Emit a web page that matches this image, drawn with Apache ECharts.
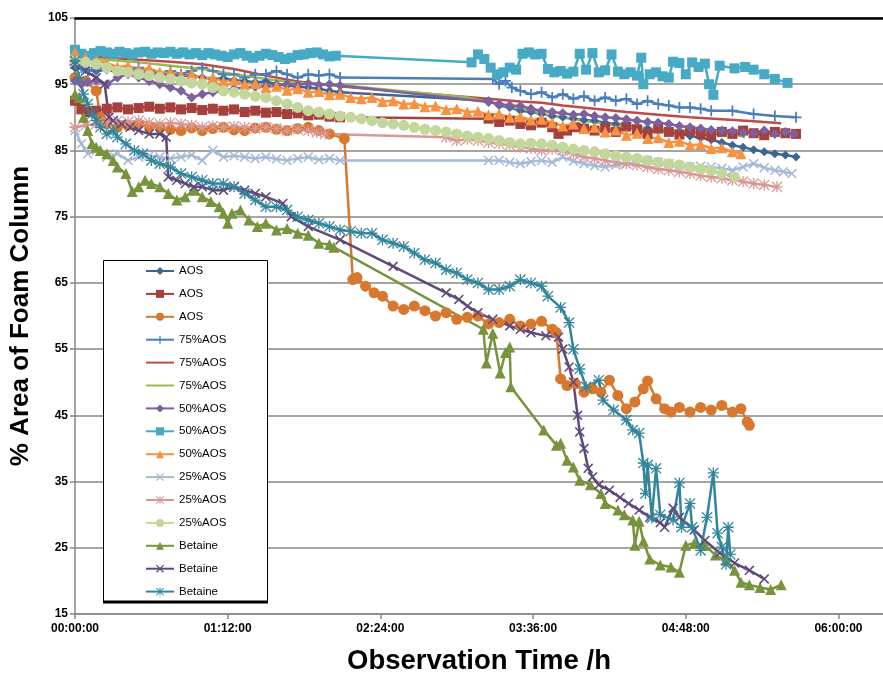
<!DOCTYPE html>
<html>
<head>
<meta charset="utf-8">
<script src="https://cdn.jsdelivr.net/npm/echarts@6/dist/echarts.min.js"></script>
<style>html,body{margin:0;padding:0;background:#fff}#c{width:883px;height:674px}</style>
</head>
<body>
<div id="c"></div>
<script>
// Time in minutes from start, value = % area of foam column
const seriesNames = ['AOS','AOS','AOS','75%AOS','75%AOS','75%AOS','50%AOS','50%AOS','50%AOS','25%AOS','25%AOS','25%AOS','Betaine','Betaine','Betaine'];

const aos1 = [[0,97.5],[5,97.2],[10,97],[15,97.2],[20,96.8],[25,96.9],[30,96.6],[35,96.8],[40,96.4],[45,96.5],[50,96.2],[55,96.3],[60,96],[65,95.8],[70,95.9],[75,95.6],[80,95.5],[85,95.3],[90,95.4],[95,95],[100,94.8],[105,94.6],[110,94.5],[115,94.3],[120,94],[125,93.8],[195,92.5],[200,91.8],[205,91.5],[210,91],[215,90.8],[220,90.5],[225,90.2],[230,90],[235,89.8],[240,89.6],[245,89.5],[250,89.2],[255,89],[260,88.8],[265,88.5],[270,88.3],[275,88],[280,87.8],[285,87.5],[290,87.2],[295,86.9],[300,86.6],[305,86.2],[310,85.8],[315,85.5],[320,85.1],[325,84.8],[330,84.5],[335,84.3],[340,84]];
const aos2 = [[0,92.5],[3,91.2],[6,90.8],[10,91],[15,91.3],[20,91.5],[25,91.2],[30,91.4],[35,91.6],[40,91.3],[45,91.5],[50,91.2],[55,91.4],[60,91.1],[65,91.3],[70,91],[75,91.2],[80,90.8],[85,91],[90,90.7],[95,90.8],[100,90.5],[105,90.6],[110,90.3],[115,90.4],[120,90.1],[125,90],[195,89.8],[200,89.3],[205,89.5],[210,89],[215,88.8],[220,89.2],[225,88.5],[228,87.5],[232,88],[236,88.5],[240,88.3],[245,88],[250,88.4],[255,87.8],[260,88.6],[265,88.2],[270,87.5],[275,88.3],[280,87.8],[285,87.4],[290,88],[295,87.5],[300,87.2],[305,87.8],[310,87.5],[315,88],[320,87.6],[325,87.3],[330,87.8],[335,87.6],[340,87.5]];
const aos3 = [[0,96],[5,95.5],[10,94],[12,90],[15,89],[20,88.5],[25,88.8],[30,89],[35,88.6],[40,88.5],[45,88.2],[50,88],[55,88.4],[60,88],[65,88.3],[70,88.5],[75,88.1],[80,88],[85,88.4],[90,88.5],[95,88.2],[100,88],[105,88.3],[110,88.5],[115,88],[120,87.5],[127,86.8],[131,65.5],[133,65.8],[137,64.5],[141,63.5],[145,63],[150,61.5],[155,61],[160,61.5],[165,60.8],[170,60],[175,60.5],[180,59.5],[185,59.8],[190,60],[195,58.8],[200,59],[205,59.5],[210,58.5],[215,58.8],[220,59.2],[225,58],[227,57.5],[229,50.5],[232,49.5],[236,49.8],[240,48.5],[244,49],[248,48.5],[252,50.3],[256,48],[260,46],[264,47],[268,49],[270,50.2],[274,47.5],[278,46],[281,45.5],[285,46.2],[290,45.5],[295,46.2],[300,45.8],[305,46.5],[310,45.5],[314,46],[317,44],[318,43.5]];
const aos75a = [[0,98],[3,97.5],[6,97],[10,97.5],[15,97.5],[20,97],[25,97],[30,97.5],[35,97],[40,96.5],[45,97],[50,96.5],[55,97],[60,97.5],[65,97],[70,96.5],[75,96.5],[80,96],[85,96.5],[90,96.5],[95,97],[100,96.5],[105,96],[110,96.5],[115,96.3],[120,96.5],[125,96],[197,95.8],[200,95],[203,95.5],[206,94.5],[210,94],[215,93.5],[220,93.8],[225,93],[230,93.5],[235,92.8],[240,93.2],[245,92.5],[250,93],[255,92.5],[260,92.8],[265,92],[270,92.5],[275,92],[280,91.8],[285,91.5],[290,91.5],[295,91.3],[300,91],[310,91],[320,90.5],[330,90.2],[340,90]];
const aos75b = [[0,99.5],[15,99],[30,98.7],[45,98.4],[60,98],[75,97.3],[90,96.3],[105,95.4],[120,94.9],[127,94.6],[195,92.8],[210,92.4],[220,92.2],[230,91.8],[245,91.3],[260,90.8],[275,90.4],[290,90],[305,89.7],[320,89.4],[333,89.1]];
const aos75c = [[0,99],[15,98.7],[30,98.3],[45,97.8],[60,97.3],[75,96.5],[90,95.8],[105,95.2],[120,95],[127,94.8],[185,93],[195,92.3],[210,91.3],[225,90.2],[240,89.5],[255,88.8],[270,88.3],[285,88],[300,87.8],[310,87.5],[316,87]];
const aos50a = [[0,95.5],[3,95],[6,95.3],[10,95.6],[15,95],[20,96],[25,96.5],[30,96],[35,95.5],[40,95],[45,94.5],[50,94],[55,93],[60,93.5],[65,93.8],[70,94],[75,94.3],[80,94.5],[85,94.6],[90,94.7],[95,94.8],[100,95],[105,94.9],[110,95.1],[115,94.9],[120,95],[125,94.8],[195,92.3],[200,92],[205,91.8],[210,91.7],[215,91.3],[220,91],[225,90.8],[230,90.6],[235,90.4],[240,90.5],[245,90.2],[250,90],[255,89.9],[260,89.7],[265,89.5],[270,89.3],[275,89.2],[280,89],[285,88.7],[290,88.5],[295,88.3],[300,88.1],[305,88],[310,87.9],[315,87.7],[320,87.6],[325,88],[330,87.5],[335,87.8],[339,87.5]];
const aos50b = [[0,100.2],[3,99.6],[6,99.3],[9,99.7],[12,100],[15,99.8],[18,99.6],[21,99.9],[24,99.7],[27,99.5],[30,99.8],[33,99.9],[36,99.6],[39,99.8],[42,99.7],[45,99.9],[48,99.6],[51,99.8],[54,99.5],[57,99.7],[60,99.4],[63,99.7],[66,99.5],[69,99.3],[72,99.1],[75,99.5],[78,99.7],[81,99.3],[84,99],[87,99.3],[90,99.6],[93,99.4],[96,99.1],[99,98.8],[102,99],[105,99.4],[108,99.5],[111,99.7],[114,99.8],[117,99.5],[120,99.2],[123,99.3],[187,98.3],[190,99.5],[193,98.8],[196,97.5],[199,96.5],[202,96.8],[205,97.5],[208,97.2],[211,99.6],[214,99.8],[217,99.5],[220,99.6],[223,97.3],[226,96.8],[229,97],[232,96.6],[235,96.9],[238,99.6],[241,97.2],[244,99.7],[247,96.8],[250,97.1],[253,99.5],[256,96.9],[259,96.5],[262,96.8],[265,96.3],[267,99],[268,95],[271,96.5],[274,96.8],[277,96.2],[280,96],[282,98.4],[285,98.2],[288,96.5],[291,98.3],[294,97.6],[297,98.1],[299,95],[301,93.4],[304,97.8],[311,97.4],[316,97.6],[320,97.2],[325,96.5],[330,95.8],[336,95.2]];
const aos50c = [[0,99.8],[5,99],[10,98.5],[15,98.2],[20,97.6],[25,97.8],[30,97.2],[35,97.4],[40,96.8],[45,96.9],[50,96.3],[55,96.5],[60,95.9],[65,96],[70,95.4],[75,95.6],[80,95],[85,95.1],[90,94.5],[95,94.7],[100,94.1],[105,94.3],[110,93.8],[115,93.9],[120,93.4],[125,93.5],[130,93],[135,92.8],[140,93],[145,92.4],[150,92.5],[155,92],[160,92.1],[165,91.6],[170,91.7],[175,91.2],[180,91.3],[185,90.8],[190,90.9],[195,90.4],[200,90.5],[205,90],[210,90.1],[215,89.6],[220,89.7],[225,89.2],[230,88.7],[235,89],[240,88.3],[245,88.5],[250,87.8],[255,88.1],[260,87.3],[265,87.6],[270,86.8],[275,86.9],[280,86.2],[285,86.4],[290,85.8],[295,85.9],[300,85.3],[305,85.4],[310,84.8],[314,84.5]];
const aos25a = [[0,88],[3,86],[6,84.5],[10,85],[15,84],[20,84.5],[25,83.5],[30,84],[35,84.2],[40,84],[45,83.8],[50,84],[55,84.3],[60,83.5],[65,85],[70,84],[75,84.2],[80,84],[85,83.8],[90,84],[95,83.7],[100,83.5],[105,83.8],[110,84],[115,83.6],[120,83.8],[125,83.5],[195,83.5],[200,83.5],[205,83.2],[210,83],[215,83.3],[220,83.5],[225,83.2],[230,84],[235,83.4],[240,83],[245,82.7],[250,82.5],[255,82.8],[260,83],[265,83.2],[270,83.5],[275,83.2],[280,83],[285,82.7],[290,82.5],[295,82.6],[300,82.5],[305,82.3],[310,82],[315,82.5],[320,83],[325,82.4],[330,82],[334,81.8],[338,81.5]];
const aos25b = [[0,88.5],[5,88.8],[10,89],[15,89.3],[20,89.5],[25,89.3],[30,89.5],[35,89.2],[40,89],[45,89.2],[50,89],[55,88.8],[60,88.5],[65,88.7],[70,88.5],[75,88.6],[80,88.5],[85,88.3],[90,88.5],[95,88.3],[100,88],[105,88.2],[110,88],[114,87.7],[118,87.5],[175,87],[180,86.5],[185,86.7],[190,86.5],[195,86.2],[200,86],[205,85.8],[210,85.5],[215,85.3],[220,85],[225,85.2],[230,85],[235,84.5],[240,84],[245,83.8],[250,83.5],[255,83.2],[260,83],[265,82.8],[270,82.5],[275,82.2],[280,82],[285,81.8],[290,81.5],[295,81.2],[300,81],[305,80.8],[310,80.5],[315,80.3],[320,80],[325,79.8],[331,79.5]];
const aos25c = [[0,98.5],[5,98.3],[10,98],[15,97.5],[20,97],[25,96.8],[30,96.5],[35,96.3],[40,96],[45,95.8],[50,95.5],[55,95.2],[60,95],[65,94.5],[70,94],[75,93.8],[80,93.5],[85,93.2],[90,93],[95,92.5],[100,92],[105,91.5],[110,91],[115,90.8],[120,90.5],[125,90.2],[130,90],[135,89.8],[140,89.5],[145,89.2],[150,89],[155,88.8],[160,88.5],[165,88.2],[170,88],[175,87.8],[180,87.5],[185,87.2],[190,87],[195,86.8],[200,86.5],[205,86.2],[210,86],[215,86.1],[220,86],[225,85.8],[230,85.5],[235,85.2],[240,85],[245,84.8],[250,84.5],[255,84.2],[260,84],[265,83.8],[270,83.5],[275,83.2],[280,83],[285,82.8],[290,82.5],[295,82.2],[300,82],[305,81.5],[311,81]];
const bet1 = [[0,93.5],[2,93],[4,90],[6,88],[8,86],[10,85.5],[12,85],[15,84.5],[18,83.5],[20,82.5],[24,81.5],[27,78.8],[30,79.5],[33,80.5],[36,80],[40,79.5],[44,78.5],[48,77.5],[52,78],[56,79],[60,78],[64,77.3],[68,76.5],[70,75.5],[72,74],[74,75.5],[78,76],[82,74.5],[86,73.5],[90,74],[95,73],[100,73.2],[105,72.5],[110,72.2],[115,71],[120,70.8],[122,70.4],[192.5,58],[194,52.9],[197,57.4],[200.5,51.4],[203,54.5],[205,55.3],[205.5,49.3],[221,42.8],[227,40.5],[229,40.8],[232,38.2],[235,37.2],[238,35.2],[243,34.5],[248,33.2],[250,31.7],[256,30.7],[259,30],[263,29.2],[264,25.4],[266,29],[268,26],[271,23.3],[276,22.4],[281,22.1],[285,21.3],[288,25.4],[292,25.7],[297,25.4],[302,23.9],[307,23.1],[311,21.6],[314,19.8],[318,19.4],[323,19],[328,18.7],[333,19.4]];
const bet2 = [[0,98],[5,97],[10,96],[14,95],[16,90],[18,89.5],[22,89],[26,88.5],[30,88],[35,87.5],[40,87.5],[43,87],[44,81],[48,80.5],[52,80],[56,79.5],[60,79.5],[65,79],[70,79],[75,79.5],[80,79],[85,78.5],[90,78],[98,77],[102,75],[110,73.5],[125,71.5],[150,67.5],[175,63.5],[181,62.5],[185,61.5],[190,60.5],[197,59.5],[205,58.5],[210,58],[215,57.5],[222,57],[228,56.8],[230,55],[233,52.3],[235,50],[237,45],[238,42.5],[240,40],[242,37],[244,35.7],[247,34.5],[252,33.7],[257,32.6],[261,31.7],[266,30.7],[271,29.6],[276,28.8],[278,28.1],[282,31],[285,29.6],[292,27.7],[297,26.1],[304,24.2],[311,22.7],[318,21.6],[325,20.3]];
const bet3 = [[0,98.5],[2,96],[4,93.5],[6,92],[8,90.5],[10,89.5],[12,88.5],[15,87.5],[18,88],[20,87],[24,86],[28,85],[32,84.5],[36,83.5],[40,83],[45,82.5],[50,81.5],[55,81],[60,80.5],[65,80],[70,80],[75,79.5],[80,78.5],[85,77.5],[90,76.5],[95,76.5],[100,76],[105,75],[110,74.5],[115,74],[120,73.5],[125,73],[130,72.8],[135,72.5],[140,72.5],[145,71.5],[150,71],[155,70.5],[160,69.5],[165,68.5],[170,68],[175,67],[180,66.5],[185,65.5],[190,65],[195,64],[200,64],[205,64.5],[210,65.5],[215,65],[220,64.5],[223,63],[229,61.3],[233,59],[235,55],[238,52],[241,49.3],[247,50.3],[249,47.3],[254,45.8],[260,44.3],[263,42.8],[266,42.3],[268,37.8],[269,33.2],[270,37.5],[272,29.5],[274,37],[276,30],[282,29.2],[285,34.8],[286,28.1],[290,31.7],[291,28.1],[295,24.6],[298,29.6],[301,36.3],[303,27.2],[305,25.1],[307,22.5],[308,28.1],[309,24]];

const xTickLabels = ['00:00:00','01:12:00','02:24:00','03:36:00','04:48:00','06:00:00'];

const PLUS = 'path://M4.2,0H5.8V4.2H10V5.8H5.8V10H4.2V5.8H0V4.2H4.2Z';
const CROSS = 'path://M0,1.1L1.1,0L10,8.9L8.9,10Z M8.9,0L10,1.1L1.1,10L0,8.9Z';
const STAR = 'path://M4.4,0H5.6V10H4.4Z M0,4.4H10V5.6H0Z M0.8,0L10,9.2L9.2,10L0,0.8Z M9.2,0L10,0.8L0.8,10L0,9.2Z';

const dataSets = [aos1,aos2,aos3,aos75a,aos75b,aos75c,aos50a,aos50b,aos50c,aos25a,aos25b,aos25c,bet1,bet2,bet3];
const colors = ['#3A6596','#A5403D','#D8782E','#4A7EBB','#BE4B48','#98B954','#7D60A0','#46AAC5','#F69240','#A7B9D7','#D99795','#C3D69B','#77933C','#5F497A','#31859C'];
const symbols = ['diamond','rect','circle',PLUS,'none','none','diamond','rect','triangle',CROSS,STAR,'circle','triangle',CROSS,STAR];
const sizes = [9,10,11,11,0,0,10,10,11,10,11,11,11,10,11];

// unique internal names (zero-width spaces) so duplicate legend labels stay separate
const uniq = seriesNames.map((n,i)=> n + '\u200b'.repeat(i));

const series = dataSets.map((d,i)=>({
  type:'line', name: uniq[i], data: d,
  symbol: symbols[i], symbolSize: sizes[i], showSymbol: symbols[i] !== 'none',
  lineStyle:{color:colors[i], width:2.5},
  itemStyle:{color:colors[i]},
  emphasis:{disabled:true},
  xAxisIndex:0, yAxisIndex:0
}));

const legendData = uniq.map((n,i)=> symbols[i]==='none'
  ? {name:n, itemStyle:{opacity:0}}
  : {name:n});

const fmtTime = v => {
  if (Math.abs(v % 72) > 1e-6) return '';
  const idx = Math.round(v/72);
  return xTickLabels[idx] || '';
};

const chart = echarts.init(document.getElementById('c'), null, {renderer:'canvas'});
chart.setOption({
  animation:false,
  backgroundColor:'#fff',
  grid:{left:75, right:0, top:18, bottom:60, containLabel:false, outerBoundsMode:'none'},
  xAxis:[{
    type:'value', min:0, max:381, interval:72,
    axisLine:{show:true, onZero:false, lineStyle:{color:'#868686', width:1.5}},
    axisTick:{show:true, length:5, lineStyle:{color:'#868686', width:1.5}},
    axisLabel:{formatter:fmtTime, showMaxLabel:false, color:'#000', fontWeight:'bold', fontSize:12, fontFamily:'Liberation Sans', margin:9},
    splitLine:{show:false},
    name:'Observation Time /h', nameLocation:'middle', nameGap:33,
    nameTextStyle:{fontSize:27.5, fontWeight:'bold', color:'#000', fontFamily:'Liberation Sans'}
  },{
    type:'value', min:0, max:381, position:'top',
    axisLine:{show:true, onZero:false, lineStyle:{color:'#000', width:2.5}},
    axisTick:{show:false}, axisLabel:{show:false}, splitLine:{show:false}
  }],
  yAxis:{
    type:'value', min:15, max:105, interval:10,
    axisLine:{show:true, lineStyle:{color:'#868686', width:1.5}},
    axisTick:{show:true, length:5, lineStyle:{color:'#868686', width:1.5}},
    axisLabel:{color:'#000', fontWeight:'bold', fontSize:12, fontFamily:'Liberation Sans', margin:7},
    splitLine:{show:true, lineStyle:{color:'#868686', width:1.5}},
    name:'% Area of Foam Column', nameLocation:'middle', nameGap:41, nameRotate:90,
    nameTextStyle:{fontSize:26, fontWeight:'bold', color:'#000', fontFamily:'Liberation Sans'}
  },
  legend:{
    orient:'vertical', left:103, top:260, z:10,
    padding:[5,0,0,42], itemGap:10.9, itemWidth:28, itemHeight:10,
    data: legendData,
    formatter: n => n.replace(/\u200b/g,''),
    textStyle:{color:'#000', fontSize:11.5, fontFamily:'Liberation Sans'},
    selectedMode:false
  },
  graphic:[
    {type:'rect', z:5, shape:{x:103.5, y:260.5, width:164, height:341}, style:{fill:'#fff', stroke:'#000', lineWidth:1}},
    {type:'line', z:5, shape:{x1:103, y1:602, x2:268, y2:602}, style:{stroke:'#000', lineWidth:3}}
  ],
  series: series
});
</script>
</body>
</html>
